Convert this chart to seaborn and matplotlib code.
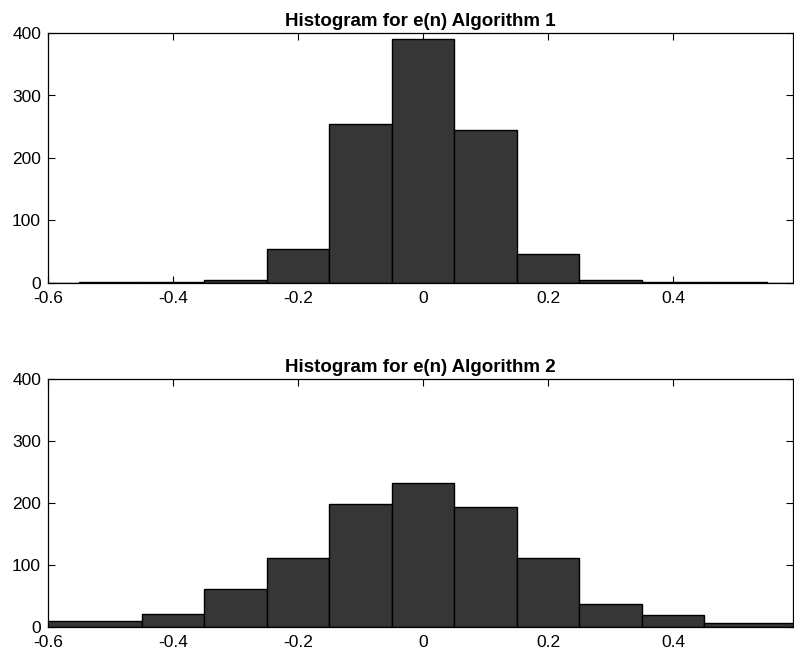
import numpy as np
import pandas as pd
import seaborn as sns
import matplotlib.pyplot as plt

# bin centres and counts
centres = [-0.6, -0.5, -0.4, -0.3, -0.2, -0.1, 0.0, 0.1, 0.2, 0.3, 0.4, 0.5, 0.6]
counts_alg1 = [0, 1, 1, 4, 55, 255, 390, 245, 46, 5, 2, 1, 0]
# algorithm 2: outer bins run off the axis, drawn as one wide bar each side
counts_alg2 = [0, 10, 21, 61, 111, 198, 232, 193, 111, 37, 19, 7, 0]

titles = ['Histogram for e(n) Algorithm 1', 'Histogram for e(n) Algorithm 2']
xticks = [-0.6, -0.4, -0.2, 0, 0.2, 0.4]
xticklabels = ['-0.6', '-0.4', '-0.2', '0', '0.2', '0.4']
yticks = [0, 100, 200, 300, 400]

sns.set_style('ticks')
plt.rcParams['font.family'] = ['Liberation Sans', 'DejaVu Sans']
plt.rcParams['xtick.direction'] = 'in'
plt.rcParams['ytick.direction'] = 'in'

fig = plt.figure(figsize=(7.94, 6.57), dpi=100)
ax1 = fig.add_axes([48 / 794, 1 - 283 / 657, 745 / 794, 250 / 657])
ax2 = fig.add_axes([48 / 794, 1 - 627 / 657, 745 / 794, 248 / 657])

w = 0.1
edges1 = [c - w / 2 for c in centres] + [centres[-1] + w / 2]
edges2 = edges1[:1] + edges1[2:-2] + edges1[-1:]

for ax, counts, edges, title in zip([ax1, ax2], [counts_alg1, counts_alg2],
                                    [edges1, edges2], titles):
    df = pd.DataFrame({'e': centres, 'n': counts})
    sns.histplot(data=df, x='e', weights='n', bins=edges, ax=ax,
                 color='#363636', edgecolor='black', linewidth=1.0, alpha=1.0)
    ax.set_xlim(-0.6, 0.592)
    ax.set_ylim(0, 400)
    ax.set_xticks(xticks)
    ax.set_xticklabels(xticklabels)
    ax.set_yticks(yticks)
    ax.set_xlabel('')
    ax.set_ylabel('')
    ax.set_title(title, fontsize=13.5, fontweight='bold', color='black', pad=5)
    ax.tick_params(axis='both', labelsize=12.5, length=5, width=0.8,
                   top=True, right=True, colors='black')
    ax.tick_params(axis='x', pad=6)
    ax.tick_params(axis='y', pad=5)
    for s in ax.spines.values():
        s.set_linewidth(0.9)
        s.set_color('black')
        s.set_visible(True)

fig.savefig('out.png', dpi=100)
